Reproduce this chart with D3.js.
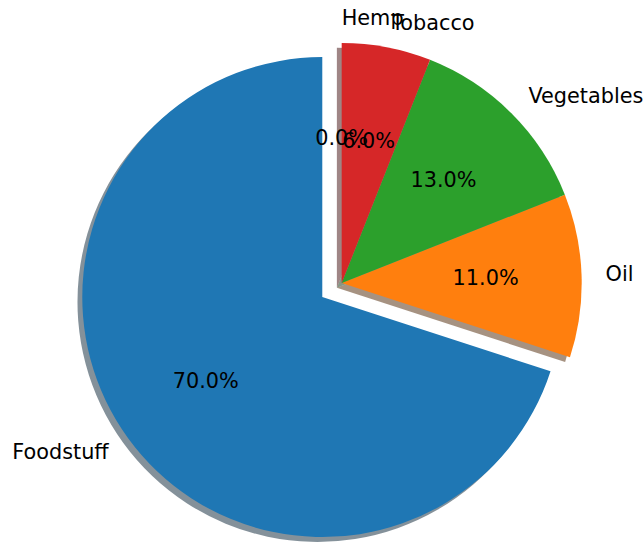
<!DOCTYPE html>
<html>
<head>
<meta charset="utf-8">
<script src="https://cdn.jsdelivr.net/npm/d3@7"></script>
<style>
  html, body { margin: 0; padding: 0; background: #ffffff; }
  svg { display: block; }
  text { font-family: "DejaVu Sans", sans-serif; font-size: 20.8px; fill: #000; }
</style>
</head>
<body>
<svg id="chart" width="643" height="542"></svg>
<script>
// ---- data ----
const categories = ["Foodstuff", "Oil", "Vegetables", "Tobacco", "Hemp"];
const values = [70, 11, 13, 6, 0];
const explode = [0.1, 0, 0, 0, 0];
const colors = ["#1f77b4", "#ff7f0e", "#2ca02c", "#d62728", "#9467bd"];

// ---- layout ----
const W = 643, H = 542;
const cx = 341.7, cy = 283, R = 240;

const svg = d3.select("#chart");
svg.append("rect").attr("width", W).attr("height", H).attr("fill", "#fff");

const data = categories.map((c, i) => ({ name: c, value: values[i], explode: explode[i], color: colors[i] }));
const total = d3.sum(values);

// matplotlib: start at 90deg, counter-clockwise
const pie = d3.pie().sort(null).value(d => d.value).startAngle(0).endAngle(-2 * Math.PI);
const arcs = pie(data);
const arc = d3.arc().innerRadius(0).outerRadius(R);
const fmt = d3.format(".1f");

function mid(a) { return (a.startAngle + a.endAngle) / 2; }
function offset(a) {
  const m = mid(a), e = a.data.explode * R;
  return [cx + Math.sin(m) * e, cy - Math.cos(m) * e];
}

const sh = 0.02 * R;
// shadows (behind all wedges)
svg.append("g").selectAll("path.shadow")
  .data(arcs.filter(a => a.data.value > 0))
  .join("path")
  .attr("class", "shadow")
  .attr("d", arc)
  .attr("transform", a => { const [x, y] = offset(a); return `translate(${x - sh},${y + sh})`; })
  .attr("fill", a => { const c = d3.rgb(a.data.color); return d3.rgb(c.r * 0.3, c.g * 0.3, c.b * 0.3).toString(); })
  .attr("fill-opacity", 0.5);

// wedges
svg.append("g").selectAll("path.wedge")
  .data(arcs.filter(a => a.data.value > 0))
  .join("path")
  .attr("class", "wedge")
  .attr("d", arc)
  .attr("transform", a => { const [x, y] = offset(a); return `translate(${x},${y})`; })
  .attr("fill", a => a.data.color);

// texts
const tg = svg.append("g");
arcs.forEach(a => {
  const [ox, oy] = offset(a);
  const m = mid(a);
  const sx = Math.sin(m), syc = -Math.cos(m);
  const lx = ox + 1.1 * R * sx, ly = oy + 1.1 * R * syc;
  tg.append("text")
    .attr("x", lx).attr("y", ly).attr("dy", "0.3em")
    .attr("text-anchor", sx >= 0 ? "start" : "end")
    .text(a.data.name);
  tg.append("text")
    .attr("x", ox + 0.6 * R * sx).attr("y", oy + 0.6 * R * syc).attr("dy", "0.3em")
    .attr("text-anchor", "middle")
    .text(fmt(a.data.value / total * 100) + "%");
});
</script>
</body>
</html>
